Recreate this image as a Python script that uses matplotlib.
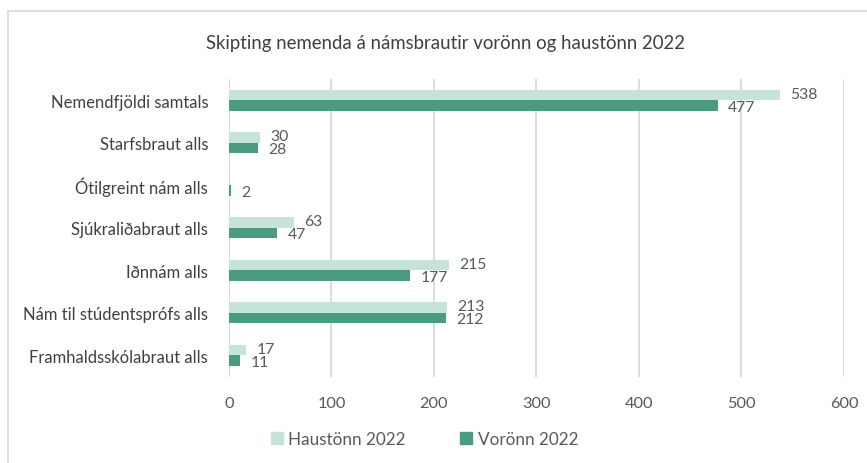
import numpy as np
import matplotlib
matplotlib.use("Agg")
import matplotlib.pyplot as plt
from matplotlib.lines import Line2D

plt.rcParams['font.family'] = ['Lato', 'DejaVu Sans']

categories = ['Nemendfjöldi samtals', 'Starfsbraut alls', 'Ótilgreint nám alls',
              'Sjúkraliðabraut alls', 'Iðnnám alls', 'Nám til stúdentsprófs alls',
              'Framhaldsskólabraut alls']
haust = [538, 30, np.nan, 63, 215, 213, 17]
vor = [477, 28, 2, 47, 177, 212, 11]
xticks = [0, 100, 200, 300, 400, 500, 600]

light = '#c6e3d8'
dark = '#4a9b80'
text_grey = '#595959'

fig = plt.figure(figsize=(8.67, 4.64), dpi=100)
ax = fig.add_axes([0.2641, 0.1864, 0.7093, 0.6412])

# chart frame (top and left edges visible in the original)
fig.add_artist(Line2D([8/867, 8/867], [0, 1 - 12/464], color='#d9d9d9', lw=1.2))
fig.add_artist(Line2D([8/867, 1], [1 - 12/464, 1 - 12/464], color='#d9d9d9', lw=1.2))

y = np.arange(len(categories))
h = 0.25
ax.barh(y - h/2, haust, height=h, color=light, label='Haustönn 2022', zorder=3)
ax.barh(y + h/2, vor, height=h, color=dark, label='Vorönn 2022', zorder=3)

for i in range(len(categories)):
    if not np.isnan(haust[i]):
        ax.text(haust[i] + 10, y[i] - h/2 - 0.03, f'{haust[i]:.0f}', va='center', ha='left',
                fontsize=11.3, color=text_grey)
    ax.text(vor[i] + 10, y[i] + h/2 + 0.03, f'{vor[i]:.0f}', va='center', ha='left',
            fontsize=11.3, color=text_grey)

ax.set_xlim(0, 600)
ax.set_ylim(len(categories) - 0.5, -0.5)
ax.set_xticks(xticks)
ax.set_yticks(y)
ax.set_yticklabels(categories)
ax.tick_params(axis='x', length=0, labelsize=11.8, labelcolor=text_grey, pad=14)
ax.tick_params(axis='y', length=0, labelsize=12, labelcolor='#404040', pad=15)
ax.grid(axis='x', color='#d9d9d9', lw=1.3, zorder=0)
for s in ax.spines.values():
    s.set_visible(False)

fig.text(0.514, 1 - 44/464, 'Skipting nemenda á námsbrautir vorönn og haustönn 2022',
         ha='center', va='center', fontsize=13.4, color='#404040')

handles = [Line2D([], [], marker='s', ls='', color=light, markersize=8),
           Line2D([], [], marker='s', ls='', color=dark, markersize=8)]
fig.legend(handles, ['Haustönn 2022', 'Vorönn 2022'], loc='center',
           bbox_to_anchor=(0.488, 1 - 440/464), ncol=2, frameon=False,
           fontsize=12.3, labelcolor=text_grey, handlelength=1.0,
           handletextpad=0.2, columnspacing=3.0)

fig.savefig('out.png', dpi=100, facecolor='white')
